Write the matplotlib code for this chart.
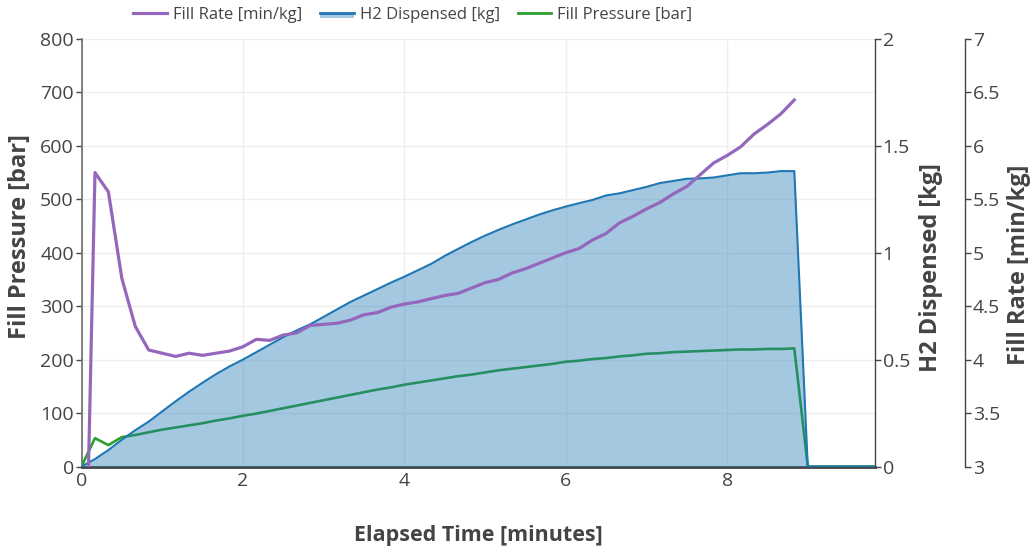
import matplotlib
matplotlib.use("Agg")
import matplotlib.pyplot as plt
import numpy as np
from matplotlib.lines import Line2D
from matplotlib.patches import Rectangle
from matplotlib.legend_handler import HandlerBase
from matplotlib.ticker import FuncFormatter

plt.rcParams['font.family'] = ['Open Sans', 'DejaVu Sans']

# ---------------- data ----------------
time_min = [0, 0.167, 0.333, 0.5, 0.667, 0.833, 1.0, 1.167, 1.333, 1.5,
            1.667, 1.833, 2.0, 2.167, 2.333, 2.5, 2.667, 2.833, 3.0, 3.167,
            3.333, 3.5, 3.667, 3.833, 4.0, 4.167, 4.333, 4.5, 4.667, 4.833,
            5.0, 5.167, 5.333, 5.5, 5.667, 5.833, 6.0, 6.167, 6.333, 6.5,
            6.667, 6.833, 7.0, 7.167, 7.333, 7.5, 7.667, 7.833, 8.0, 8.167,
            8.333, 8.5, 8.667, 8.833, 9.0, 9.167, 9.333, 9.5, 9.667, 9.833]

h2_dispensed = [0, 0.035, 0.077, 0.125, 0.170, 0.210, 0.258, 0.305, 0.350, 0.392,
                0.432, 0.468, 0.500, 0.535, 0.570, 0.605, 0.637, 0.665, 0.700, 0.735,
                0.770, 0.800, 0.830, 0.860, 0.888, 0.918, 0.948, 0.985, 1.018, 1.050,
                1.080, 1.107, 1.132, 1.155, 1.178, 1.198, 1.216, 1.232, 1.247, 1.268,
                1.278, 1.293, 1.308, 1.326, 1.336, 1.346, 1.348, 1.352, 1.362, 1.372,
                1.372, 1.375, 1.382, 1.382, 0, 0, 0, 0, 0, 0]

fill_pressure = [0, 53, 40, 55, 59, 64, 69, 73, 77, 81,
                 86, 90, 95, 99, 104, 109, 114, 119, 124, 129,
                 134, 139, 144, 148, 153, 157, 161, 165, 169, 172,
                 176, 180, 183, 186, 189, 192, 196, 198, 201, 203,
                 206, 208, 211, 212, 214, 215, 216, 217, 218, 219,
                 219, 220, 220, 221, 0, 0, 0, 0, 0, 0]

fill_rate = [0, 5.75, 5.57, 4.76, 4.31, 4.09, 4.06, 4.03, 4.06, 4.04,
             4.06, 4.08, 4.12, 4.19, 4.18, 4.23, 4.25, 4.32, 4.33, 4.34,
             4.37, 4.42, 4.44, 4.49, 4.52, 4.54, 4.57, 4.60, 4.62, 4.67,
             4.72, 4.75, 4.81, 4.85, 4.90, 4.95, 5.00, 5.04, 5.12, 5.18,
             5.28, 5.34, 5.41, 5.47, 5.55, 5.62, 5.73, 5.84, 5.91, 5.99,
             6.11, 6.20, 6.30, 6.43]

x_ticks = [0, 2, 4, 6, 8]
pressure_ticks = [0, 100, 200, 300, 400, 500, 600, 700, 800]
h2_ticks = [0, 0.5, 1, 1.5, 2]
rate_ticks = [3, 3.5, 4, 4.5, 5, 5.5, 6, 6.5, 7]

# ---------------- styling ----------------
PURPLE = '#9467bd'
BLUE = '#1f77b4'
GREEN = '#2ca02c'
TXT = '#444444'
GRID = '#eeeeee'
TICK_FS = 14
XTITLE_FS = 15.5
YTITLE_FS = 17

W, H = 1033, 549
fig = plt.figure(figsize=(W / 100, H / 100), dpi=100)
L, R, T, B = 81.5, 875, 39, 466.5
ax = fig.add_axes([L / W, 1 - B / H, (R - L) / W, (B - T) / H])
ax2 = ax.twinx()
ax3 = ax.twinx()

fmt = FuncFormatter(lambda v, p: f"{v:g}")

# pressure (bottom layer)
ax.plot(time_min, fill_pressure, color=GREEN, lw=1.9, solid_joinstyle='round', zorder=3)
ax.set_xlim(0, time_min[-1])
ax.set_ylim(0, 800)
ax.set_xticks(x_ticks)
ax.set_yticks(pressure_ticks)
ax.yaxis.set_major_formatter(fmt)
ax.grid(True, color=GRID, lw=1)
ax.set_axisbelow(True)

# H2 dispensed (filled)
ax2.fill_between(time_min, 0, h2_dispensed, color=BLUE, alpha=0.4, lw=0)
ax2.plot(time_min, h2_dispensed, color=BLUE, lw=1.5)
ax2.set_ylim(0, 2)
ax2.set_yticks(h2_ticks)
ax2.yaxis.set_major_formatter(fmt)

# fill rate (top layer)
ax3.plot(time_min[:len(fill_rate)], fill_rate, color=PURPLE, lw=2.3, solid_joinstyle='round')
ax3.set_ylim(3, 7)
ax3.set_yticks(rate_ticks)
ax3.yaxis.set_major_formatter(fmt)
ax3.spines['right'].set_position(('axes', (965 - L) / (R - L)))

for a in (ax, ax2, ax3):
    a.spines['top'].set_visible(False)
    a.tick_params(labelsize=TICK_FS, colors=TXT, length=4, width=1, pad=1.5)
ax.tick_params(axis='x', length=0, pad=4)
ax.spines['right'].set_visible(False)
ax.spines['left'].set_color('#777777')
ax.spines['left'].set_linewidth(1.3)
ax.spines['bottom'].set_color(TXT)
ax.spines['bottom'].set_linewidth(2)
for a in (ax2, ax3):
    a.spines['left'].set_visible(False)
    a.spines['bottom'].set_visible(False)
    a.spines['right'].set_color(TXT)
    a.spines['right'].set_linewidth(1)

# axis titles
fig.text(478 / W, 1 - 535 / H, 'Elapsed Time [minutes]', ha='center', va='center',
         fontsize=XTITLE_FS, fontweight='bold', color=TXT)
fig.text(20 / W, 1 - 237 / H, 'Fill Pressure [bar]', ha='center', va='center',
         rotation=90, fontsize=YTITLE_FS, fontweight='bold', color=TXT)
fig.text(931 / W, 1 - 268 / H, 'H2 Dispensed [kg]', ha='center', va='center',
         rotation=90, fontsize=YTITLE_FS, fontweight='bold', color=TXT)
fig.text(1019 / W, 1 - 265 / H, 'Fill Rate [min/kg]', ha='center', va='center',
         rotation=90, fontsize=YTITLE_FS, fontweight='bold', color=TXT)

# legend
class FillHandler(HandlerBase):
    def create_artists(self, legend, orig, xd, yd, width, height, fontsize, trans):
        rect = Rectangle((xd, yd + height * 0.1), width, height * 0.45,
                         facecolor=BLUE, alpha=0.4, lw=0, transform=trans)
        line = Line2D([xd, xd + width], [yd + height * 0.55] * 2, color=BLUE,
                      lw=2, transform=trans)
        return [rect, line]

h_rate = Line2D([], [], color=PURPLE, lw=2.3)
h_h2 = Rectangle((0, 0), 1, 1)
h_p = Line2D([], [], color=GREEN, lw=2)
leg = fig.legend([h_rate, h_h2, h_p],
                 ['Fill Rate [min/kg]', 'H2 Dispensed [kg]', 'Fill Pressure [bar]'],
                 handler_map={Rectangle: FillHandler()},
                 loc='center', bbox_to_anchor=(413 / W, 1 - 15 / H), ncol=3,
                 frameon=False, fontsize=12, handlelength=2.0, handletextpad=0.36,
                 columnspacing=1.1, borderaxespad=0)
for t in leg.get_texts():
    t.set_color(TXT)

fig.savefig('out.png', dpi=100)
